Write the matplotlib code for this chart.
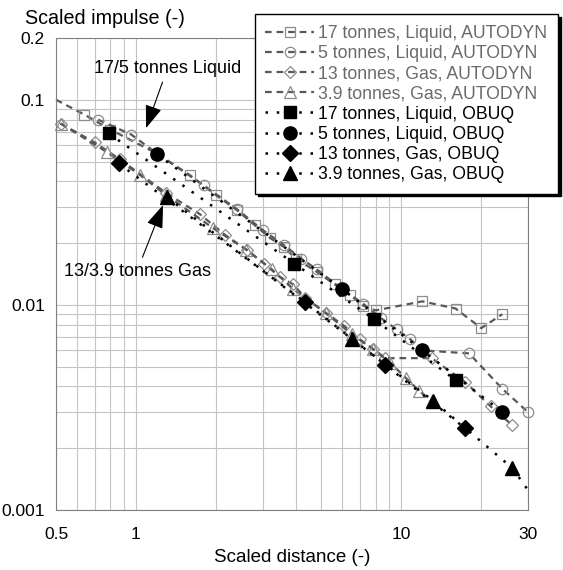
import numpy as np
import matplotlib
matplotlib.use('Agg')
import matplotlib.pyplot as plt
from matplotlib.ticker import FixedLocator, NullFormatter

plt.rcParams['font.family'] = ['Liberation Sans', 'DejaVu Sans']

# AUTODYN results (open grey markers, dashed)
ad17_x = [0.5, 0.64, 0.8, 1.2, 1.6, 2.0, 2.4, 2.8, 3.2, 3.6, 4.0, 4.8, 5.6, 6.4, 7.2, 8.0, 12.0, 16.0, 20.0, 24.0]
ad17_y = [0.1, 0.0846, 0.0716, 0.0547, 0.0428, 0.0343, 0.0290, 0.0245, 0.0212, 0.0192, 0.0168, 0.0145,
          0.0126, 0.0112, 0.0099, 0.0094, 0.0104, 0.0096, 0.0077, 0.0090]
ad5_x = [0.72, 0.96, 1.2, 1.8, 2.4, 3.0, 3.6, 4.2, 4.8, 6.0, 7.2, 8.4, 9.6, 10.8, 12.0, 18.0, 24.0, 30.0]
ad5_y = [0.0800, 0.0677, 0.0547, 0.0383, 0.0293, 0.0232, 0.0196, 0.0168, 0.0149, 0.0119, 0.0101,
         0.0086, 0.0076, 0.0068, 0.0060, 0.0058, 0.0039, 0.0030]
ad13_x = [0.52, 0.70, 0.87, 1.30, 1.74, 2.17, 2.61, 3.04, 3.48, 3.91, 4.35, 5.22, 6.09, 6.96, 7.83, 8.70,
          13.0, 17.4, 21.7, 26.1]
ad13_y = [0.0766, 0.0619, 0.0512, 0.0351, 0.0277, 0.0219, 0.0186, 0.0159, 0.0137, 0.0126, 0.0108,
          0.0091, 0.0079, 0.0068, 0.0061, 0.0055, 0.0055, 0.0042, 0.0032, 0.0026]
ad39_x = [0.52, 0.78, 1.04, 1.30, 1.95, 2.6, 3.25, 3.9, 5.2, 6.5, 7.8, 9.1, 10.4, 11.7, 13.0]
ad39_y = [0.0766, 0.0554, 0.0428, 0.0343, 0.0237, 0.0186, 0.0149, 0.0120, 0.0091, 0.0072, 0.0061,
          0.0052, 0.0044, 0.0038, 0.0034]

# OBUQ results (filled black markers, dotted)
ob17_x = [0.79, 3.95, 7.9, 16.0]
ob17_y = [0.0685, 0.0159, 0.0085, 0.0043]
ob5_x = [1.2, 6.0, 12.0, 24.0]
ob5_y = [0.0542, 0.0119, 0.0060, 0.0030]
ob13_x = [0.86, 4.34, 8.7, 17.4]
ob13_y = [0.0490, 0.0103, 0.0051, 0.0025]
ob39_x = [1.31, 6.53, 13.2, 26.2, 30.0]
ob39_y = [0.0335, 0.0068, 0.0034, 0.0016, 0.00125]

fig = plt.figure(figsize=(5.63, 5.70), dpi=100)
ax = fig.add_axes([0.0995, 0.1053, 0.8383, 0.828])

grey_line = '#585858'
grey_mark = '#8c8c8c'
dash = (0, (3, 2.2))
dot = (0, (1, 3.5))

ax.plot(ad17_x, ad17_y, ls=dash, lw=1.6, color=grey_line, marker='s', ms=7.5, mfc='none',
        mec=grey_mark, mew=0.9, markevery=list(range(1, len(ad17_x))), clip_on=False,
        label='17 tonnes, Liquid, AUTODYN')
ax.plot(ad5_x, ad5_y, ls=dash, lw=1.6, color=grey_line, marker='o', ms=7.5, mfc='none',
        mec=grey_mark, mew=0.9, clip_on=False, label='5 tonnes, Liquid, AUTODYN')
ax.plot(ad13_x, ad13_y, ls=dash, lw=1.6, color=grey_line, marker='D', ms=6.5, mfc='none',
        mec=grey_mark, mew=0.9, clip_on=False, label='13 tonnes, Gas, AUTODYN')
ax.plot(ad39_x, ad39_y, ls=dash, lw=1.6, color=grey_line, marker='^', ms=8, mfc='none',
        mec=grey_mark, mew=0.9, clip_on=False, label='3.9 tonnes, Gas, AUTODYN')

ax.plot(ob17_x, ob17_y, ls=dot, lw=1.8, color='k', marker='s', ms=9, label='17 tonnes, Liquid, OBUQ')
ax.plot(ob5_x, ob5_y, ls=dot, lw=1.8, color='k', marker='o', ms=9.5, label='5 tonnes, Liquid, OBUQ')
ax.plot(ob13_x, ob13_y, ls=dot, lw=1.8, color='k', marker='D', ms=8, label='13 tonnes, Gas, OBUQ')
ax.plot(ob39_x, ob39_y, ls=dot, lw=1.8, color='k', marker='^', ms=10.5,
        markevery=list(range(len(ob39_x) - 1)), clip_on=False, label='3.9 tonnes, Gas, OBUQ')

ax.set_xscale('log')
ax.set_yscale('log')
ax.set_xlim(0.5, 30)
ax.set_ylim(0.001, 0.2)

ax.xaxis.set_major_locator(FixedLocator([0.5, 1, 10, 30]))
ax.set_xticklabels(['0.5', '1', '10', '30'])
ax.xaxis.set_minor_locator(FixedLocator([0.6, 0.7, 0.8, 0.9, 2, 3, 4, 5, 6, 7, 8, 9, 20]))
ax.xaxis.set_minor_formatter(NullFormatter())
ax.yaxis.set_major_locator(FixedLocator([0.001, 0.01, 0.1, 0.2]))
ax.set_yticklabels(['0.001', '0.01', '0.1', '0.2'])
ax.yaxis.set_minor_locator(FixedLocator([k * 10.0 ** e for e in (-3, -2) for k in range(2, 10)]))
ax.yaxis.set_minor_formatter(NullFormatter())

ax.grid(True, which='both', color='#c4c4c4', lw=0.8)
ax.set_axisbelow(True)
ax.tick_params(which='both', length=0, labelsize=12.5)
ax.tick_params(axis='x', pad=12)
ax.tick_params(axis='y', pad=8)
for s in ax.spines.values():
    s.set_color('#808080')

fig.text(25 / 563, 1 - 19 / 570, 'Scaled impulse (-)', fontsize=14.2, va='center', ha='left')
fig.text(292 / 563, 1 - 558 / 570, 'Scaled distance (-)', fontsize=13.5, va='center', ha='center')

arrow = dict(arrowstyle='-|>,head_length=1.1,head_width=0.4', color='k', lw=0.8, shrinkA=2, shrinkB=0)
ax.annotate('17/5 tonnes Liquid', xy=(0.1907, 0.809), xytext=(0.2362, 0.936),
            xycoords='axes fraction', textcoords='axes fraction', ha='center', va='center',
            fontsize=13, arrowprops=arrow)
ax.annotate('13/3.9 tonnes Gas', xy=(0.2267, 0.646), xytext=(0.1716, 0.506),
            xycoords='axes fraction', textcoords='axes fraction', ha='center', va='center',
            fontsize=13, arrowprops=arrow)

leg = ax.legend(loc='upper right', bbox_to_anchor=(0.991, 0.975), bbox_transform=fig.transFigure,
                fontsize=12.7, labelspacing=0.18, handlelength=2.75, handletextpad=0.25,
                borderaxespad=0, borderpad=0.6, fancybox=False, framealpha=1,
                edgecolor='k', shadow={'color': 'k', 'alpha': 1})
leg.get_frame().set_linewidth(1.0)
for i, t in enumerate(leg.get_texts()):
    t.set_color('#6a6a6a' if i < 4 else 'k')

fig.savefig('out.png', dpi=100)
